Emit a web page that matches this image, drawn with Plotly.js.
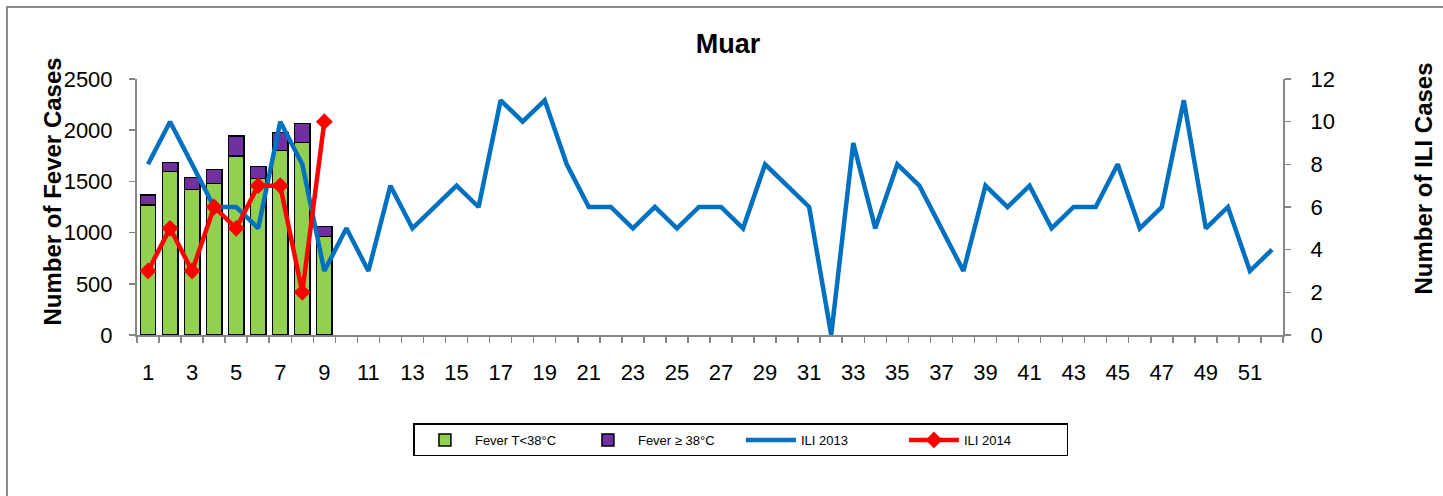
<!DOCTYPE html>
<html>
<head>
<meta charset="utf-8">
<script src="https://cdn.plot.ly/plotly-3.0.1.min.js"></script>
<style>
  html, body { margin: 0; padding: 0; background: #ffffff; }
  #frame { position: absolute; left: 6px; top: 6px; width: 1460px; height: 520px; border: 2px solid #8c8c8c; box-sizing: border-box; }
  #chart { position: absolute; left: 0; top: 0; width: 1443px; height: 496px; }
</style>
</head>
<body>
<div id="frame"></div>
<div id="chart"></div>
<script>
// ---- data ----
const weeks = Array.from({length: 52}, (_, i) => i + 1);
const feverWeeks = [1, 2, 3, 4, 5, 6, 7, 8, 9];
const feverBelow38 = [1270, 1595, 1423, 1481, 1748, 1530, 1800, 1878, 960];
const feverAbove38 = [97, 88, 117, 137, 195, 114, 176, 189, 98];
const ili2013 = [8, 10, 8, 6, 6, 5, 10, 8, 3, 5, 3, 7, 5, 6, 7, 6, 11, 10, 11, 8,
                 6, 6, 5, 6, 5, 6, 6, 5, 8, 7, 6, 0, 9, 5, 8, 7, 5, 3, 7, 6,
                 7, 5, 6, 6, 8, 5, 6, 11, 5, 6, 3, 4];
const ili2014Weeks = [1, 2, 3, 4, 5, 6, 7, 8, 9];
const ili2014 = [3, 5, 3, 6, 5, 7, 7, 2, 10];
const xTickVals = [1, 3, 5, 7, 9, 11, 13, 15, 17, 19, 21, 23, 25, 27, 29, 31, 33, 35, 37, 39, 41, 43, 45, 47, 49, 51];
const xTickText = xTickVals.map(String);

const FONT = 'Liberation Sans, Arial, sans-serif';
const AX = '#868686';

const traces = [
  { type: 'bar', name: 'Fever T<38°C', x: feverWeeks, y: feverBelow38,
    marker: { color: '#92D050', line: { color: '#000000', width: 1.5 } }, yaxis: 'y' },
  { type: 'bar', name: 'Fever ≥ 38°C', x: feverWeeks, y: feverAbove38,
    marker: { color: '#7030A0', line: { color: '#000000', width: 1.5 } }, yaxis: 'y' },
  { type: 'scatter', mode: 'lines', name: 'ILI 2013', x: weeks, y: ili2013,
    line: { color: '#0070C0', width: 4.5 }, yaxis: 'y2' },
  { type: 'scatter', mode: 'lines+markers', name: 'ILI 2014', x: ili2014Weeks, y: ili2014,
    line: { color: '#FF0000', width: 4.5 }, marker: { symbol: 'diamond', size: 13, color: '#FF0000' }, yaxis: 'y2' }
];

const layout = {
  width: 1443, height: 496,
  margin: { l: 137, r: 160, t: 79, b: 161 },
  paper_bgcolor: 'rgba(0,0,0,0)', plot_bgcolor: 'rgba(0,0,0,0)',
  font: { family: FONT, color: '#000000', size: 22 },
  barmode: 'stack', bargap: 0.3,
  showlegend: true,
  title: { text: '<b>Muar</b>', font: { family: FONT, size: 27, color: '#000' },
           x: 728 / 1443, y: 1 - 44 / 496, xref: 'container', yref: 'container',
           xanchor: 'center', yanchor: 'middle' },
  xaxis: {
    range: [0.5, 52.5], tickmode: 'array', tickvals: xTickVals, ticktext: xTickText,
    ticks: '', ticklabelstandoff: 17, showgrid: false, zeroline: false,
    showline: true, linecolor: AX, linewidth: 2,
    tickfont: { family: FONT, size: 22 },
    minor: { ticks: 'outside', tick0: 0.5, dtick: 1, ticklen: 6, tickwidth: 1.5, tickcolor: AX, showgrid: false }
  },
  yaxis: {
    range: [0, 2500], dtick: 500, tick0: 0, ticks: 'outside', ticklen: 6, tickwidth: 1.5, tickcolor: AX,
    showgrid: false, zeroline: false, showline: true, linecolor: AX, linewidth: 2,
    ticklabelstandoff: 12, tickfont: { family: FONT, size: 22 }
  },
  yaxis2: {
    range: [0, 12], dtick: 2, tick0: 0, overlaying: 'y', side: 'right', anchor: 'x',
    ticks: 'outside', ticklen: 6, tickwidth: 1.5, tickcolor: AX,
    showgrid: false, zeroline: false, showline: true, linecolor: AX, linewidth: 2,
    ticklabelstandoff: 15, tickfont: { family: FONT, size: 22 }
  },
  legend: {
    orientation: 'h', x: 0.527, y: -0.41, xanchor: 'center', yanchor: 'middle',
    bordercolor: '#000000', borderwidth: 1.5, bgcolor: '#ffffff',
    font: { family: FONT, size: 13, color: '#000' }, traceorder: 'normal',
    itemwidth: 50, entrywidth: 98
  },
  annotations: [
    { text: '<b>Number of Fever Cases</b>', textangle: -90, xref: 'paper', yref: 'paper',
      x: (52 - 137) / 1146, y: (335 - 191.5) / 256, xanchor: 'center', yanchor: 'middle',
      showarrow: false, font: { family: FONT, size: 24, color: '#000' } },
    { text: '<b>Number of ILI Cases</b>', textangle: -90, xref: 'paper', yref: 'paper',
      x: (1423 - 137) / 1146, y: (335 - 178.5) / 256, xanchor: 'center', yanchor: 'middle',
      showarrow: false, font: { family: FONT, size: 24, color: '#000' } }
  ]
};

Plotly.newPlot('chart', traces, layout, { displayModeBar: false, staticPlot: true });
</script>
</body>
</html>
